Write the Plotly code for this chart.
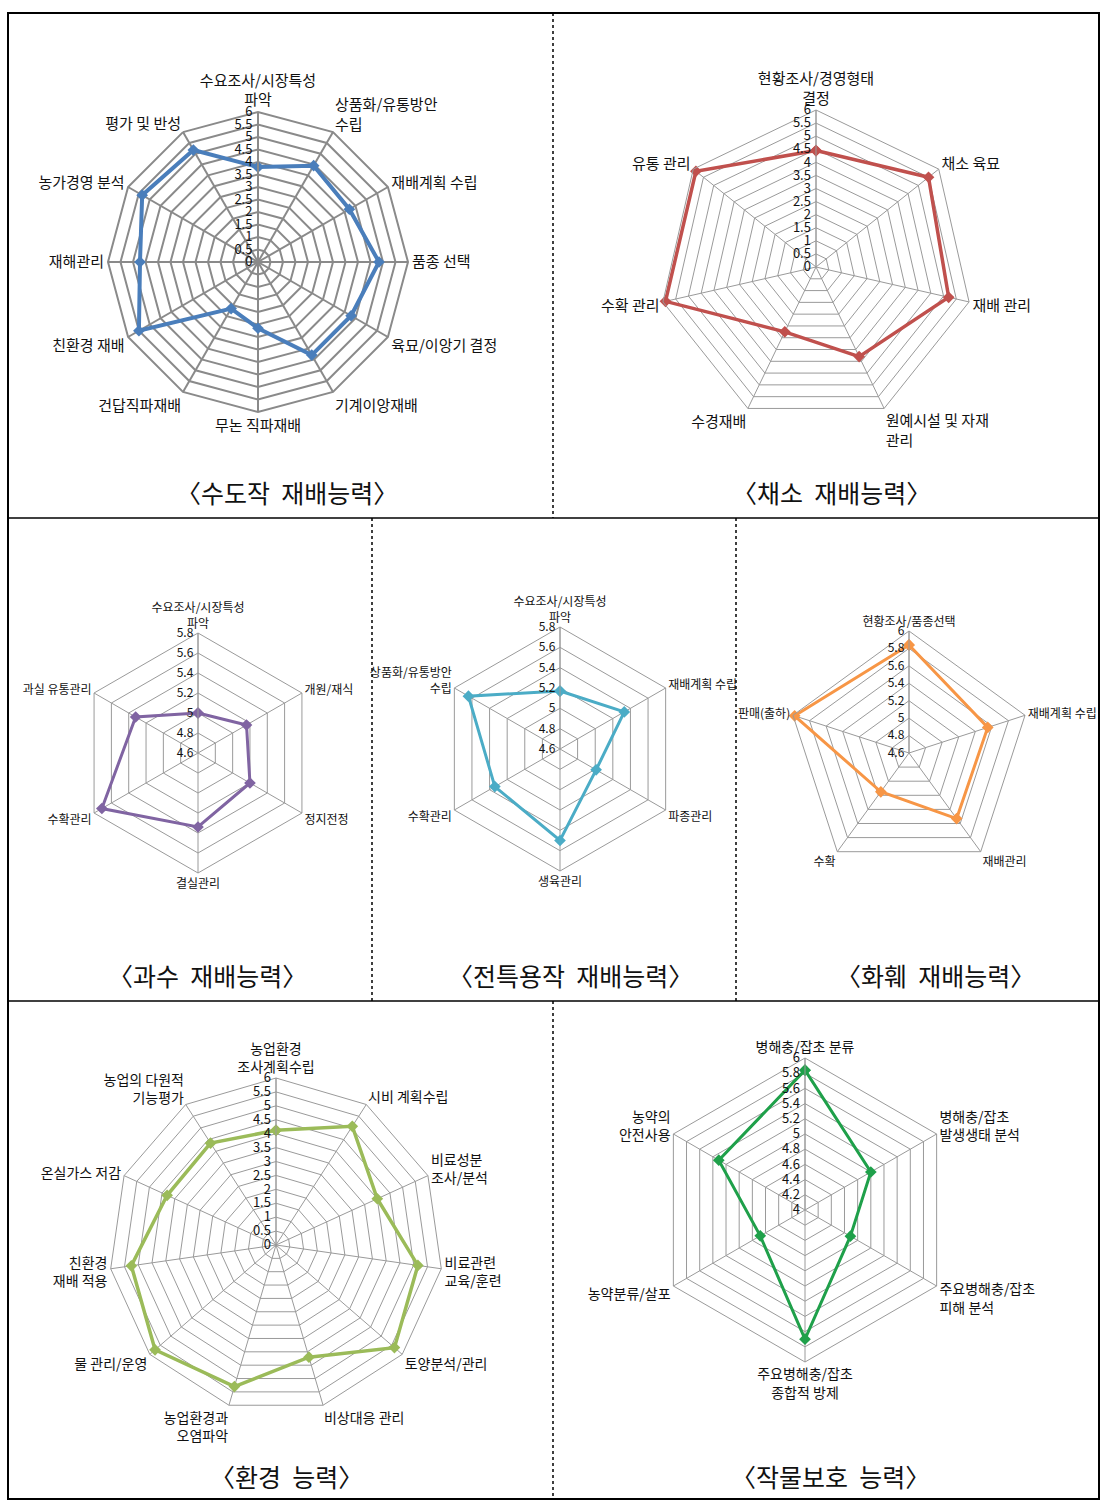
import plotly.graph_objects as go

W, H = 1108, 1507
FONT = "Noto Sans CJK KR"

# ---------------- data ----------------
rice_cats = ["수요조사/시장특성<br>파악", "상품화/유통방안<br>수립", "재배계획 수립", "품종 선택",
             "육묘/이앙기 결정", "기계이앙재배", "무논 직파재배", "건답직파재배",
             "친환경 재배", "재해관리", "농가경영 분석", "평가 및 반성"]
rice_vals = [3.8, 4.45, 4.22, 4.84, 4.3, 4.3, 2.65, 2.15, 5.5, 4.72, 5.35, 5.17]

veg_cats = ["현황조사/경영형태<br>결정", "채소 육묘", "재배 관리", "원예시설 및 자재<br>관리",
            "수경재배", "수확 관리", "유통 관리"]
veg_vals = [4.45, 5.5, 5.2, 3.8, 2.75, 5.9, 5.87]

fruit_cats = ["수요조사/시장특성<br>파악", "개원/재식", "정지전정", "결실관리", "수확관리", "과실 유통관리"]
fruit_vals = [5.0, 5.16, 5.2, 5.34, 5.71, 5.32]

spec_cats = ["수요조사/시장특성<br>파악", "재배계획 수립", "파종관리", "생육관리", "수확관리",
             "상품화/유통방안<br>수립"]
spec_vals = [5.17, 5.33, 5.01, 5.5, 5.34, 5.64]

flower_cats = ["현황조사/품종선택", "재배계획 수립", "재배관리", "수확", "판매(출하)"]
flower_vals = [5.84, 5.55, 5.53, 5.15, 5.98]

env_cats = ["농업환경<br>조사계획수립", "시비 계획수립", "비료성분<br>조사/분석", "비료관련<br>교육/훈련",
            "토양분석/관리", "비상대응 관리", "농업환경과<br>오염파악", "물 관리/운영",
            "친환경<br>재배 적용", "온실가스 저감", "농업의 다원적<br>기능평가"]
env_vals = [4.12, 5.07, 4.0, 5.15, 5.63, 4.2, 5.3, 5.75, 5.25, 4.3, 4.35]

prot_cats = ["병해충/잡초 분류", "병해충/잡초<br>발생생태 분석", "주요병해충/잡초<br>피해 분석",
             "주요병해충/잡초<br>종합적 방제", "농약분류/살포", "농약의<br>안전사용"]
prot_vals = [5.84, 5.0, 4.69, 5.7, 4.68, 5.31]

ticks_0_6 = [0, 0.5, 1, 1.5, 2, 2.5, 3, 3.5, 4, 4.5, 5, 5.5, 6]
ticklabels_0_6 = ["0", "0.5", "1", "1.5", "2", "2.5", "3", "3.5", "4", "4.5", "5", "5.5", "6"]
ticks_46_58 = [4.6, 4.8, 5.0, 5.2, 5.4, 5.6, 5.8]
ticklabels_46_58 = ["4.6", "4.8", "5", "5.2", "5.4", "5.6", "5.8"]
ticks_46_6 = [4.6, 4.8, 5.0, 5.2, 5.4, 5.6, 5.8, 6.0]
ticklabels_46_6 = ["4.6", "4.8", "5", "5.2", "5.4", "5.6", "5.8", "6"]
ticks_4_6 = [4.0, 4.2, 4.4, 4.6, 4.8, 5.0, 5.2, 5.4, 5.6, 5.8, 6.0]
ticklabels_4_6 = ["4", "4.2", "4.4", "4.6", "4.8", "5", "5.2", "5.4", "5.6", "5.8", "6"]

titles = ["〈수도작  재배능력〉", "〈채소  재배능력〉", "〈과수  재배능력〉", "〈전특용작  재배능력〉",
          "〈화훼  재배능력〉", "〈환경  능력〉", "〈작물보호  능력〉"]

# ---------------- chart specs (layout / style) ----------------
charts = [
    dict(cats=rice_cats, vals=rice_vals, color="#4A7EBB", cx=258, cy=262, R=150,
         rng=[0, 6], tv=ticks_0_6, tt=ticklabels_0_6, fs=15, tfs=13, lw=4, gw=2, gc="#8a8a8a",
         tx=287, ty=492),
    dict(cats=veg_cats, vals=veg_vals, color="#C0504D", cx=816, cy=267, R=157,
         rng=[0, 6], tv=ticks_0_6, tt=ticklabels_0_6, fs=15, tfs=13, lw=3.5, gw=1, gc="#9a9a9a",
         tx=831, ty=492),
    dict(cats=fruit_cats, vals=fruit_vals, color="#8064A2", cx=198, cy=753, R=120,
         rng=[4.6, 5.8], tv=ticks_46_58, tt=ticklabels_46_58, fs=12, tfs=12, lw=3, gw=1, gc="#9a9a9a",
         tx=207, ty=975),
    dict(cats=spec_cats, vals=spec_vals, color="#4BACC6", cx=560, cy=749, R=122,
         rng=[4.6, 5.8], tv=ticks_46_58, tt=ticklabels_46_58, fs=12, tfs=12, lw=3, gw=1, gc="#9a9a9a",
         tx=570, ty=975),
    dict(cats=flower_cats, vals=flower_vals, color="#F79646", cx=909, cy=753, R=122,
         rng=[4.6, 6.0], tv=ticks_46_6, tt=ticklabels_46_6, fs=12, tfs=12, lw=3, gw=1, gc="#9a9a9a",
         tx=935, ty=975),
    dict(cats=env_cats, vals=env_vals, color="#9BBB59", cx=276, cy=1245, R=167,
         rng=[0, 6], tv=ticks_0_6, tt=ticklabels_0_6, fs=14, tfs=13, lw=3.5, gw=1, gc="#9a9a9a",
         tx=286, ty=1476),
    dict(cats=prot_cats, vals=prot_vals, color="#1FA04A", cx=805, cy=1210, R=152,
         rng=[4.0, 6.0], tv=ticks_4_6, tt=ticklabels_4_6, fs=14, tfs=13, lw=3, gw=1, gc="#9a9a9a",
         tx=830, ty=1476),
]

fig = go.Figure()
layout_polars = {}
annotations = []

for i, c in enumerate(charts):
    pname = "polar" if i == 0 else f"polar{i+1}"
    theta = c["cats"] + [c["cats"][0]]
    r = c["vals"] + [c["vals"][0]]
    fig.add_trace(go.Scatterpolar(
        r=r, theta=theta, subplot=pname, mode="lines+markers",
        line=dict(color=c["color"], width=c["lw"]),
        marker=dict(symbol="diamond", size=9, color=c["color"]),
        showlegend=False, hoverinfo="skip"))
    x0 = (c["cx"] - c["R"]) / W
    x1 = (c["cx"] + c["R"]) / W
    y0 = 1 - (c["cy"] + c["R"]) / H
    y1 = 1 - (c["cy"] - c["R"]) / H
    layout_polars[pname] = dict(
        domain=dict(x=[x0, x1], y=[y0, y1]),
        gridshape="linear",
        bgcolor="white",
        angularaxis=dict(type="category", categoryarray=c["cats"], rotation=90, direction="clockwise",
                         showline=True, linecolor=c["gc"], linewidth=c["gw"],
                         gridcolor=c["gc"], gridwidth=c["gw"], ticks="",
                         tickfont=dict(family=FONT, size=c["fs"], color="#111")),
        radialaxis=dict(range=c["rng"], tickvals=c["tv"], ticktext=c["tt"], angle=90,
                        side="counterclockwise", showline=True, linecolor=c["gc"], linewidth=c["gw"],
                        gridcolor=c["gc"], gridwidth=c["gw"], ticks="", tickangle=90,
                        tickfont=dict(family=FONT, size=c["tfs"], color="#111")),
    )
    annotations.append(dict(x=c["tx"] / W, y=1 - c["ty"] / H, xref="paper", yref="paper",
                            text=titles[i], showarrow=False, xanchor="center", yanchor="middle",
                            font=dict(family=FONT, size=25, color="#111")))


def px(x):
    return x / W


def py(y):
    return 1 - y / H


shapes = [
    dict(type="rect", xref="paper", yref="paper", x0=px(8), x1=px(1099), y0=py(1499), y1=py(13),
         line=dict(color="black", width=2)),
    dict(type="line", xref="paper", yref="paper", x0=px(8), x1=px(1099), y0=py(518), y1=py(518),
         line=dict(color="black", width=1.5)),
    dict(type="line", xref="paper", yref="paper", x0=px(8), x1=px(1099), y0=py(1001), y1=py(1001),
         line=dict(color="black", width=1.5)),
    dict(type="line", xref="paper", yref="paper", x0=px(553), x1=px(553), y0=py(13), y1=py(518),
         line=dict(color="black", width=1.5, dash="dot")),
    dict(type="line", xref="paper", yref="paper", x0=px(372), x1=px(372), y0=py(518), y1=py(1001),
         line=dict(color="black", width=1.5, dash="dot")),
    dict(type="line", xref="paper", yref="paper", x0=px(736), x1=px(736), y0=py(518), y1=py(1001),
         line=dict(color="black", width=1.5, dash="dot")),
    dict(type="line", xref="paper", yref="paper", x0=px(553), x1=px(553), y0=py(1001), y1=py(1499),
         line=dict(color="black", width=1.5, dash="dot")),
]

fig.update_layout(
    width=W, height=H, margin=dict(l=0, r=0, t=0, b=0),
    paper_bgcolor="white", plot_bgcolor="white",
    font=dict(family=FONT),
    shapes=shapes, annotations=annotations,
    **layout_polars,
)

fig.write_html("out.html", config={"displayModeBar": False})

# remove default browser body margin so the figure sits at the page origin
with open("out.html", "r", encoding="utf-8") as f:
    html = f.read()
html = html.replace("<head>", "<head><style>html,body{margin:0;padding:0;}</style>", 1)
with open("out.html", "w", encoding="utf-8") as f:
    f.write(html)
